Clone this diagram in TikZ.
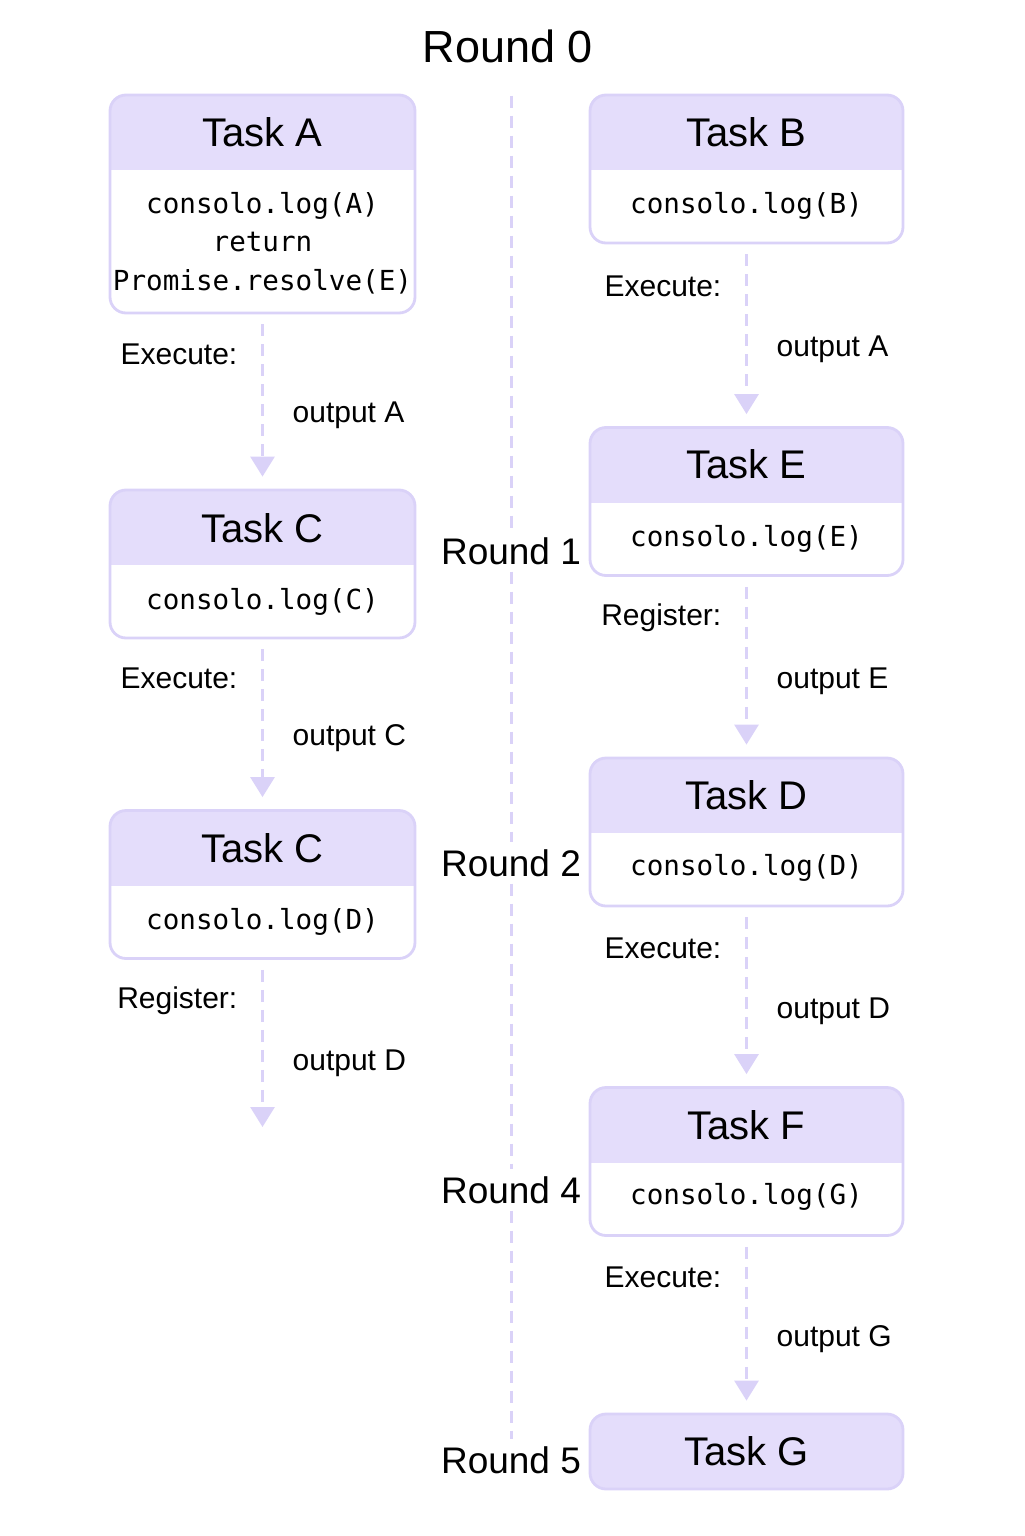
\documentclass[tikz,border=0pt]{standalone}
\usepackage{fontspec}
\setmainfont{Liberation Sans}
\setmonofont{DejaVu Sans Mono}
\usetikzlibrary{arrows.meta,positioning}
\definecolor{lav}{HTML}{E4DDFB}
\definecolor{lavline}{HTML}{DAD2F8}

\begin{document}
\begin{tikzpicture}[x=.5pt, y=-.5pt,
  task/.style={draw=lavline, line width=1.4pt, fill=white, rounded corners=8pt, inner sep=0pt,
    minimum width=#1, minimum height=74pt,
    path picture={\fill[lav, sharp corners] (path picture bounding box.north west) rectangle ([yshift=-37.5pt]path picture bounding box.north east);}},
  task/.default=152.5pt,
  ttl/.style={font=\fontsize{20}{24}\selectfont},
  code/.style={font=\ttfamily\fontsize{13.8}{19.25}\selectfont, align=center},
  flow/.style={draw=lavline, line width=1.5pt, dash pattern=on 6pt off 4pt,
    -{Triangle[width=12pt,length=10pt]}, shorten <=5pt, shorten >=6pt},
  lbl/.style={font=\fontsize{15}{18}\selectfont},
  rnd/.style={font=\fontsize{18.5}{22}\selectfont},
  midline/.style={draw=lavline, line width=1.5pt, dash pattern=on 6pt off 4pt}]
\useasboundingbox (0,0) rectangle (1024,1536);

% rounds
\node[rnd, font=\fontsize{22.5}{26}\selectfont] (r0) at (508,46) {Round 0};
\node[rnd] (r1) at (511,551) {Round 1};
\node[rnd] (r2) at (511,863) {Round 2};
\node[rnd] (r4) at (511,1190) {Round 4};
\node[rnd] (r5) at (511,1460) {Round 5};
\draw[midline, shorten <=13pt] (r0.south -| r1) -- (r1);
\draw[midline] (r1) -- (r2);
\draw[midline] (r2) -- (r4);
\draw[midline] (r4) -- (r5);

% left column
\node[task, minimum height=109pt] (A) at (262.5,204) {};
\node[ttl] (A-t) at (262.5,132.5) {Task A};
\node[code] (A-c) at (262.5,243) {consolo.log(A)\\return\\Promise.resolve(E)};

\node[task] (C) at (262.5,564) {};
\node[ttl] (C-t) at (262.5,528) {Task C};
\node[code] (C-c) at (262.5,602) {consolo.log(C)};

\node[task] (C2) at (262.5,884.5) {};
\node[ttl] (C2-t) at (262.5,848.5) {Task C};
\node[code] (C2-c) at (262.5,922) {consolo.log(D)};
\coordinate (endL) at (262.5,1139);

% right column
\node[task=156.5pt] (B) at (746.5,169) {};
\node[ttl] (B-t) at (746.5,132.5) {Task B};
\node[code] (B-c) at (746.5,206) {consolo.log(B)};

\node[task=156.5pt] (E) at (746.5,501.5) {};
\node[ttl] (E-t) at (746.5,464.5) {Task E};
\node[code] (E-c) at (746.5,539) {consolo.log(E)};

\node[task=156.5pt] (D) at (746.5,832) {};
\node[ttl] (D-t) at (746.5,795) {Task D};
\node[code] (D-c) at (746.5,868) {consolo.log(D)};

\node[task=156.5pt] (F) at (746.5,1161.5) {};
\node[ttl] (F-t) at (746.5,1125.5) {Task F};
\node[code] (F-c) at (746.5,1197) {consolo.log(G)};

\node[task=156.5pt, minimum height=37.5pt] (G) at (746.5,1451.5) {};
\node[ttl] (G-t) at (746.5,1451.5) {Task G};

% flows
\foreach \a/\b/\how/\out in {A/C/Execute:/output A, C/C2/Execute:/output C, C2/endL/Register:/output D,
  B/E/Execute:/output A, E/D/Register:/output E, D/F/Execute:/output D, F/G/Execute:/output G}
  \draw[flow] (\a) -- (\b)
    node[lbl, pos=.23, left=8.5pt] {\how}
    node[lbl, pos=.58, right=11pt] {\out};
\end{tikzpicture}
\end{document}
